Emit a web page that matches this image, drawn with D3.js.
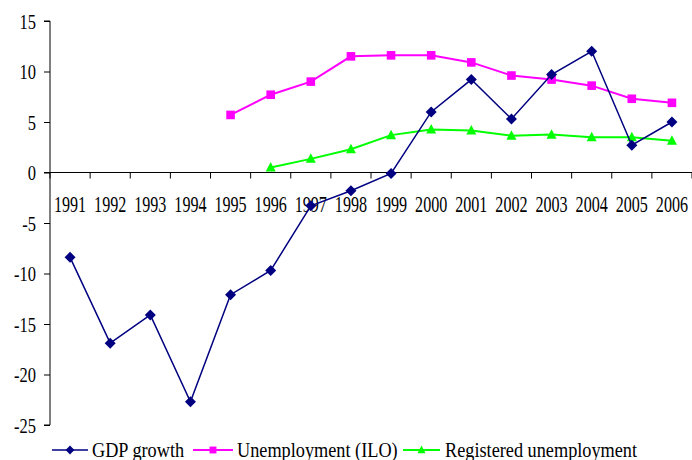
<!DOCTYPE html>
<html><head><meta charset="utf-8">
<script src="https://cdn.jsdelivr.net/npm/d3@7"></script>
<style>
html,body{margin:0;padding:0;background:#fff;}
svg{display:block;font-family:"Liberation Serif","Times New Roman",serif;}
</style></head>
<body>
<svg id="chart" width="692" height="460"></svg>
<script>
const years = ["1991","1992","1993","1994","1995","1996","1997","1998","1999","2000","2001","2002","2003","2004","2005","2006"];
const gdpGrowth = [-8.4,-16.9,-14.1,-22.7,-12.1,-9.7,-3.3,-1.8,-0.1,6.0,9.2,5.3,9.7,12.0,2.7,5.0];
const unemploymentILO = [null,null,null,null,5.7,7.7,9.0,11.5,11.6,11.6,10.9,9.6,9.2,8.6,7.3,6.9];
const registeredUnemployment = [null,null,null,null,null,0.5,1.35,2.3,3.7,4.25,4.15,3.65,3.75,3.5,3.5,3.15];
const yTicks = [15,10,5,0,-5,-10,-15,-20,-25];
const seriesNames = ["GDP growth","Unemployment (ILO)","Registered unemployment"];

const svg = d3.select("#chart");
const x = d3.scaleBand().domain(years).range([50, 692]).padding(0);
const y = d3.scaleLinear().domain([-25, 15]).range([425, 21]);

// Y axis
const yAxis = svg.append("g").attr("transform","translate(50,0)")
  .call(d3.axisLeft(y).tickValues(yTicks).tickSize(6).tickPadding(5).tickFormat(d => String(d)));
yAxis.select(".domain").attr("stroke","#000").attr("d", `M-6,${y(15)}H0V${y(-25)}H-6`);
yAxis.selectAll(".tick line").attr("stroke","#000");
yAxis.selectAll(".tick text").attr("font-size",22).attr("fill","#000")
  .attr("font-family","Liberation Serif")
  .attr("x", -14/0.75).attr("transform","scale(0.75,1)");

// X axis at zero
const xAxisG = svg.append("g").attr("transform",`translate(0,${y(0)})`);
xAxisG.append("line").attr("x1",44).attr("x2",692).attr("y1",0).attr("y2",0).attr("stroke","#000");
const bounds = years.map(d => x(d)).concat([x(years[years.length-1]) + x.bandwidth()]);
xAxisG.selectAll("line.tk").data(bounds).enter().append("line").attr("class","tk")
  .attr("x1",d=>d).attr("x2",d=>d).attr("y1",0).attr("y2",6).attr("stroke","#000");
xAxisG.selectAll("text").data(years).enter().append("text")
  .attr("transform", d => `translate(${x(d)+x.bandwidth()/2},39) scale(0.7,1)`)
  .attr("text-anchor","middle").attr("font-size",23).attr("fill","#000").text(d=>d);

const cx = i => x(years[i]) + x.bandwidth()/2;

function drawSeries(vals, color, lw, marker) {
  const pts = vals.map((v,i)=>({v,i})).filter(p=>p.v!==null);
  const line = d3.line().x(p=>cx(p.i)).y(p=>y(p.v));
  svg.append("path").datum(pts).attr("d",line).attr("fill","none")
    .attr("stroke",color).attr("stroke-width",lw);
  svg.append("g").selectAll("path").data(pts).enter().append("path")
    .attr("d", marker)
    .attr("transform", p => `translate(${cx(p.i)},${y(p.v)})`)
    .attr("fill",color);
}
const diamond = "M0,-5.5L5.5,0L0,5.5L-5.5,0Z";
const square = "M-4.3,-4.3H4.3V4.3H-4.3Z";
const triangle = "M0,-5.5L5,4H-5Z";

drawSeries(unemploymentILO, "#ff00ff", 2, square);
drawSeries(registeredUnemployment, "#00ff00", 2, triangle);
drawSeries(gdpGrowth, "#000080", 1.5, diamond);

// Legend
const legendItems = [
  {name: seriesNames[0], color:"#000080", marker: diamond, x: 52, len: 36, tx: 40, lw:1.5},
  {name: seriesNames[1], color:"#ff00ff", marker: square, x: 193, len: 40, tx: 44, lw:2},
  {name: seriesNames[2], color:"#00ff00", marker: triangle, x: 403, len: 37, tx: 42, lw:2}
];
const lg = svg.append("g");
legendItems.forEach(it => {
  const g = lg.append("g").attr("transform",`translate(${it.x},450)`);
  g.append("line").attr("x1",0).attr("x2",it.len).attr("stroke",it.color).attr("stroke-width",it.lw);
  g.append("path").attr("d",it.marker).attr("transform",`translate(${it.len/2},0) scale(0.8)`).attr("fill",it.color);
  g.append("text").attr("transform",`translate(${it.tx},7) scale(0.83,1)`).attr("font-size",22).attr("fill","#000").text(it.name);
});
</script>
</body></html>
